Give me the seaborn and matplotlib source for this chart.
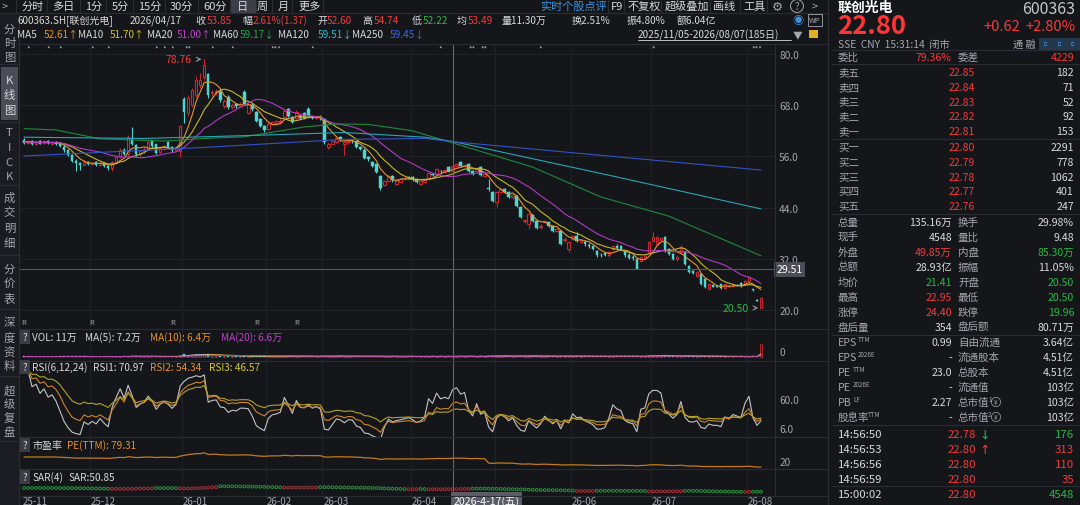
import numpy as np
import pandas as pd
import seaborn as sns
import matplotlib.pyplot as plt
from matplotlib.lines import Line2D
from matplotlib.patches import Rectangle
from matplotlib.transforms import blended_transform_factory as blend

# ---- daily K-line, 2025/11/05 - 2026/08/07 (185 days) ----
opens = [
    59.8, 59.1, 59.5, 59.0, 59.6, 59.1, 59.6, 59.0, 59.4, 59.0,
    58.3, 57.4, 56.3, 55.0, 54.5, 54.1, 54.8, 54.3, 54.6, 54.0,
    54.4, 53.8, 53.2, 54.5, 55.9, 57.6, 56.6, 60.3, 58.7, 56.6,
    57.2, 57.6, 59.6, 58.8, 57.0, 57.8, 59.3, 58.2, 57.4, 57.2,
    69.5, 66.2, 68.0, 70.5, 72.8, 74.5, 75.2, 70.8, 71.0, 71.2,
    67.8, 70.0, 67.6, 68.2, 67.8, 71.0, 66.2, 68.0, 66.4, 64.8,
    63.1, 62.4, 63.7, 63.9, 64.0, 65.2, 67.0, 65.2, 65.0, 65.4,
    66.2, 67.2, 65.3, 65.0, 65.3, 64.8, 58.2, 59.0, 59.4, 60.5,
    58.8, 59.3, 59.6, 59.5, 58.2, 57.6, 55.9, 54.8, 54.2, 51.4,
    49.4, 50.2, 51.3, 49.6, 50.0, 50.6, 51.2, 51.2, 50.8, 49.6,
    50.0, 50.8, 51.8, 51.8, 52.6, 52.4, 53.5, 52.60, 53.8, 54.7,
    53.8, 54.2, 52.5, 52.6, 53.5, 51.5, 48.6, 47.7, 45.3, 47.7,
    48.3, 47.7, 46.4, 46.7, 44.1, 40.8, 40.2, 42.3, 40.9, 39.4,
    40.6, 40.6, 39.7, 38.6, 38.5, 36.3, 34.3, 36.6, 37.3, 36.0,
    36.0, 35.3, 35.0, 33.8, 33.0, 33.3, 32.8, 34.3, 35.0, 34.9,
    33.8, 33.0, 32.5, 32.0, 31.5, 32.2, 33.6, 36.2, 35.5, 36.5,
    37.1, 34.3, 33.1, 32.0, 33.6, 33.6, 30.3, 29.1, 28.0, 28.5,
    27.3, 24.9, 25.8, 25.6, 26.0, 25.1, 25.7, 25.6, 25.9, 26.3,
    26.1, 26.8, 24.9, 22.3, 20.50]
highs = [
    60.3, 59.9, 59.8, 59.7, 59.9, 59.8, 59.9, 59.6, 59.7, 59.3,
    58.6, 57.7, 56.5, 55.3, 54.8, 55.1, 55.0, 54.8, 54.9, 54.7,
    54.6, 54.0, 54.9, 56.2, 58.0, 57.9, 61.0, 62.8, 58.9, 57.6,
    58.1, 59.6, 59.9, 59.0, 58.2, 58.7, 59.6, 58.4, 58.3, 63.4,
    70.0, 70.5, 72.0, 74.8, 75.5, 78.76, 75.5, 71.6, 71.9, 71.5,
    69.4, 70.3, 68.4, 68.6, 68.7, 71.5, 68.6, 68.4, 66.7, 65.0,
    63.4, 64.0, 64.4, 64.5, 64.8, 67.0, 67.3, 65.5, 66.8, 65.7,
    66.5, 67.6, 65.5, 65.5, 65.6, 65.0, 59.3, 59.9, 60.6, 60.8,
    59.6, 59.9, 59.9, 59.7, 58.4, 57.9, 56.2, 55.0, 54.4, 51.7,
    50.5, 51.7, 51.6, 50.9, 51.0, 51.1, 51.5, 51.5, 51.0, 50.5,
    50.7, 52.3, 52.1, 53.3, 52.9, 53.0, 53.8, 54.74, 54.5, 55.0,
    54.3, 54.5, 52.8, 53.4, 53.8, 52.2, 50.6, 48.0, 48.0, 48.6,
    48.6, 48.0, 47.2, 47.0, 44.3, 41.3, 42.8, 42.6, 41.2, 40.1,
    41.2, 40.9, 40.0, 39.2, 38.7, 37.0, 36.2, 37.6, 38.2, 36.6,
    36.3, 35.6, 35.3, 34.1, 33.3, 33.6, 33.9, 35.3, 35.5, 35.2,
    34.1, 33.3, 32.8, 32.2, 32.7, 32.9, 36.2, 38.3, 37.4, 37.1,
    37.4, 34.6, 33.4, 32.8, 35.3, 33.8, 30.6, 29.4, 29.2, 28.7,
    27.5, 26.3, 26.0, 25.8, 26.2, 26.2, 25.9, 26.2, 26.1, 26.5,
    27.0, 27.9, 25.0, 22.5, 22.95]
lows = [
    58.9, 58.8, 58.6, 58.7, 58.8, 58.9, 58.8, 58.7, 58.6, 58.1,
    57.1, 56.0, 54.6, 52.6, 52.8, 53.9, 54.0, 54.0, 53.8, 53.7,
    53.5, 52.9, 52.6, 54.3, 55.6, 56.3, 56.2, 58.7, 56.0, 56.2,
    56.9, 57.4, 58.2, 56.6, 56.8, 57.5, 57.8, 57.1, 57.2, 55.8,
    63.8, 65.5, 67.5, 70.0, 72.0, 74.0, 69.8, 70.2, 70.5, 68.8,
    67.4, 67.0, 67.2, 67.4, 67.5, 68.0, 66.0, 66.6, 64.1, 62.8,
    61.7, 62.2, 63.4, 63.6, 63.7, 65.0, 65.2, 63.8, 64.8, 64.8,
    64.7, 65.3, 64.7, 64.8, 64.6, 59.0, 57.8, 58.8, 59.2, 59.6,
    56.3, 59.0, 59.2, 58.0, 57.5, 55.3, 55.0, 53.5, 52.0, 48.2,
    49.0, 50.0, 50.1, 49.3, 49.8, 50.4, 50.6, 50.3, 49.8, 49.4,
    49.8, 50.5, 51.3, 51.5, 52.2, 52.1, 52.3, 52.22, 53.5, 53.6,
    53.6, 52.3, 51.6, 52.3, 51.4, 51.2, 48.0, 45.3, 44.2, 47.4,
    47.4, 46.2, 46.1, 44.1, 41.5, 40.5, 39.0, 40.6, 38.9, 39.1,
    40.3, 39.4, 38.2, 38.3, 35.2, 36.0, 33.6, 36.3, 35.9, 35.8,
    35.1, 34.6, 34.0, 32.5, 32.4, 32.6, 32.5, 34.0, 34.2, 34.0,
    32.5, 32.0, 31.8, 29.51, 31.2, 32.0, 33.4, 36.0, 35.2, 36.2,
    33.5, 32.8, 31.7, 31.6, 33.3, 30.5, 28.6, 28.4, 27.7, 25.8,
    25.2, 24.7, 25.3, 25.3, 24.9, 24.9, 25.4, 25.4, 25.6, 25.4,
    25.9, 26.6, 24.4, 22.0, 20.50]
closes = [
    59.2, 59.6, 59.0, 59.4, 59.0, 59.5, 59.1, 59.3, 59.0, 58.4,
    57.4, 56.3, 55.0, 54.4, 54.0, 54.8, 54.3, 54.5, 54.1, 54.4,
    53.8, 53.2, 54.6, 55.8, 57.6, 56.6, 60.6, 59.0, 56.5, 57.3,
    57.8, 59.3, 58.5, 56.9, 57.9, 58.4, 58.0, 57.4, 58.0, 63.1,
    66.4, 69.8, 71.5, 74.0, 73.8, 77.5, 70.3, 71.2, 71.4, 69.2,
    69.0, 67.5, 68.0, 67.8, 68.3, 68.3, 68.2, 67.0, 64.4, 63.2,
    62.1, 63.6, 64.1, 64.2, 64.4, 66.6, 65.5, 64.0, 66.4, 65.1,
    65.0, 65.5, 65.0, 65.2, 64.9, 59.4, 58.9, 59.6, 60.3, 60.0,
    59.3, 59.6, 59.5, 58.2, 57.8, 55.6, 55.3, 53.8, 52.3, 48.5,
    50.2, 51.4, 50.4, 50.6, 50.7, 50.8, 50.9, 50.6, 50.1, 50.2,
    50.4, 52.0, 51.6, 53.0, 52.5, 52.7, 52.6, 53.85, 54.2, 53.8,
    54.0, 52.6, 51.9, 53.1, 51.7, 51.9, 48.3, 45.6, 47.7, 48.3,
    47.7, 46.5, 46.9, 44.4, 41.8, 41.0, 42.5, 40.9, 39.2, 39.8,
    40.9, 39.7, 38.5, 38.9, 35.5, 36.7, 35.9, 37.3, 36.2, 36.3,
    35.4, 34.9, 34.3, 32.8, 32.8, 32.9, 33.6, 35.0, 34.5, 34.3,
    32.8, 32.3, 32.1, 29.6, 32.4, 32.6, 35.9, 37.1, 37.1, 36.8,
    33.8, 33.1, 32.0, 32.5, 34.8, 30.8, 28.9, 28.7, 28.9, 26.1,
    25.4, 26.0, 25.5, 25.5, 25.1, 26.0, 25.6, 26.0, 25.8, 25.6,
    26.8, 27.7, 24.6, 22.18, 22.80]
volumes = [  # 万手
    6, 5, 5, 4, 5, 4, 4, 5, 4, 6,
    7, 8, 9, 8, 6, 5, 5, 4, 4, 4,
    5, 5, 6, 7, 8, 7, 6, 12, 10, 7,
    6, 6, 7, 7, 6, 5, 5, 5, 6, 18,
    30, 25, 22, 26, 20, 28, 30, 18, 14, 13,
    12, 14, 10, 9, 9, 12, 11, 9, 10, 12,
    10, 8, 7, 7, 8, 10, 9, 8, 8, 7,
    7, 8, 6, 6, 6, 15, 12, 9, 8, 8,
    9, 7, 6, 6, 6, 8, 7, 7, 8, 10,
    8, 7, 6, 6, 6, 6, 6, 6, 5, 5,
    5, 7, 6, 6, 6, 6, 7, 11.3, 8, 7,
    6, 7, 6, 6, 7, 6, 14, 12, 13, 9,
    8, 8, 7, 10, 12, 11, 14, 9, 9, 7,
    7, 7, 8, 6, 12, 10, 11, 8, 9, 7,
    7, 6, 7, 9, 6, 6, 7, 8, 7, 6,
    7, 7, 6, 12, 8, 7, 16, 18, 14, 12,
    15, 10, 9, 8, 11, 13, 10, 7, 7, 10,
    9, 8, 6, 6, 7, 6, 5, 5, 5, 6,
    6, 7, 9, 5, 135.16]

# long moving averages (bar index, value)
ma60_x = [0, 8, 19, 35, 47, 55, 70, 78, 86, 97, 107, 127, 144, 161, 184]
ma60_y = [62.5, 62.2, 60.1, 59.6, 60.3, 60.6, 62.9, 63.6, 63.5, 62.0, 59.17, 53.5, 46.5, 42.0, 32.7]
ma120_x = [0, 30, 60, 80, 100, 107, 145, 184]
ma120_y = [60.5, 60.2, 61.0, 61.6, 60.5, 59.51, 51.8, 43.7]
ma250_x = [0, 45, 80, 100, 107, 184]
ma250_y = [56.1, 58.1, 60.0, 60.2, 59.45, 52.8]

eps_ttm = [0.679, 0.99]   # before / after annual report
eps_switch = 116

month_labels = ['25-11', '25-12', '26-01', '26-02', '26-03', '26-04', '26-05', '26-06', '26-07', '26-08']
month_start = [0, 17, 40, 61, 75, 97, 118, 137, 157, 181]
star_bars = [1, 6, 9, 17, 21, 33, 35, 37, 41, 47, 52, 63, 72, 104, 112, 115, 129, 157, 183]
star_marks = ['*', '*', '*', '*', '*', '*', '*', '*', '**', '*', '*', '***', '*', '*', '**', '**', '*', '*', '***']
r_bars = [0, 17, 37, 58, 68]
cursor_idx = 107
cursor_date = '2026-4-17(五)'
cursor_price = 29.51
price_ticks = [80, 68, 56, 44, 32, 20]

# ---- look ----
W, H = 1080, 506
BG = '#14161a'
STRIP = '#1a1c21'
SEP = '#2a2d34'
GRID = '#202329'
WH = '#d9d9d9'
GR = '#a3a6ad'
RED = '#f03b3b'
GRN = '#27b843'
KRED = '#c9262f'
CYAN = '#4fd6d0'
C_MA5, C_MA10, C_MA20 = '#e2952f', '#c9b52c', '#b23bbf'
C_MA60, C_MA120, C_MA250 = '#1f8a3c', '#2aa4b6', '#3552c4'
FS = 7.2

sns.set_theme(style='dark', rc={'axes.facecolor': BG, 'figure.facecolor': BG})
plt.rcParams['font.family'] = ['Noto Sans CJK SC', 'DejaVu Sans']

df = pd.DataFrame({'o': opens, 'h': highs, 'l': lows, 'c': closes, 'v': volumes})
n = len(df)
idx = np.arange(n)
up = (df.c >= df.o).values

fig = plt.figure(figsize=(W / 100, H / 100), dpi=100)


def box(x0, y0, x1, y1):
    return [x0 / W, 1 - y1 / H, (x1 - x0) / W, (y1 - y0) / H]


def T(x, y, s, c=WH, fs=FS, ha='left', va='center', **kw):
    return fig.text(x / W, 1 - y / H, s, color=c, fontsize=fs, ha=ha, va=va, **kw)


def hl(y, x0, x1, c=SEP, lw=0.8):
    fig.add_artist(Line2D([x0 / W, x1 / W], [1 - y / H, 1 - y / H], color=c, lw=lw))


def vl(x, y0, y1, c=SEP, lw=0.8):
    fig.add_artist(Line2D([x / W, x / W], [1 - y0 / H, 1 - y1 / H], color=c, lw=lw))


def rect(x0, y0, x1, y1, c):
    fig.add_artist(Rectangle((x0 / W, 1 - y1 / H), (x1 - x0) / W, (y1 - y0) / H, color=c, lw=0))


def panel(y0, y1, ylim):
    a = fig.add_axes(box(20, y0, 775, y1))
    a.set_facecolor(BG)
    a.set_xlim(-1, 187.5)
    a.set_ylim(*ylim)
    for s in a.spines.values():
        s.set_visible(False)
    a.tick_params(axis='x', bottom=False, labelbottom=False)
    a.tick_params(axis='y', left=False, labelleft=False, right=False, labelright=True,
                  length=0, pad=3, labelsize=7.3, labelcolor=GR)
    for m in month_start[1:]:
        a.axvline(m - 0.5, color=GRID, lw=0.7, zorder=0)
    a.axvline(cursor_idx, color='#62656c', lw=0.8, zorder=5)
    return a


def tidy(a):
    a.set_xlabel('')
    a.set_ylabel('')


# ---- main K-line panel ----
ax = panel(45, 330, (15.55, 82.34))
ax.set_yticks(price_ticks)
ax.set_yticklabels([f'{t:.1f}' for t in price_ticks])
for t in price_ticks:
    ax.axhline(t, color=GRID, lw=0.7, zorder=0)
ax.vlines(idx, df.l, df.h, colors=np.where(up, KRED, CYAN), lw=0.8, zorder=2)
body = np.maximum((df.c - df.o).abs().values, 0.12)
bottom = np.minimum(df.o, df.c).values
ax.bar(idx[up], body[up], bottom=bottom[up], width=0.62, color=BG, edgecolor=KRED, lw=0.8, zorder=3)
ax.bar(idx[~up], body[~up], bottom=bottom[~up], width=0.62, color=CYAN, edgecolor=CYAN, lw=0.3, zorder=3)

for win, col in [(5, C_MA5), (10, C_MA10), (20, C_MA20)]:
    sns.lineplot(x=idx, y=df.c.rolling(win, min_periods=1).mean(), ax=ax, color=col, lw=0.8, zorder=4)
for xs, ys, col in [(ma60_x, ma60_y, C_MA60), (ma120_x, ma120_y, C_MA120), (ma250_x, ma250_y, C_MA250)]:
    sns.lineplot(x=xs, y=ys, ax=ax, color=col, lw=0.8, zorder=4)
tidy(ax)

hi_i, lo_i = int(df.h.idxmax()), int(df.l.idxmin())
ax.annotate(f'{df.h[hi_i]:.2f}', xy=(hi_i, df.h[hi_i]), xytext=(-9, 0), textcoords='offset points',
            ha='right', va='center', color=RED, fontsize=7.6,
            arrowprops=dict(arrowstyle='->', color='#9a9da3', lw=0.7))
ax.annotate(f'{df.l[lo_i]:.2f}', xy=(lo_i, df.l[lo_i]), xytext=(-9, 0), textcoords='offset points',
            ha='right', va='center', color=GRN, fontsize=7.6,
            arrowprops=dict(arrowstyle='->', color='#9a9da3', lw=0.7))

tr = blend(ax.transData, ax.transAxes)
for b, m in zip(star_bars, star_marks):
    ax.text(b, 0.985, m, transform=tr, ha='center', va='center', color='#b8b8b8', fontsize=5.5)
for b in r_bars:
    ax.text(b, 0.025, 'R', transform=tr, ha='center', va='center', color='#a0a0a0', fontsize=5.5)

ax.axhline(cursor_price, color='#55585f', lw=0.8, zorder=5)
ax.text(1.002, cursor_price, f'{cursor_price:.2f}', transform=blend(ax.transAxes, ax.transData),
        ha='left', va='center', color='white', fontsize=7.6, clip_on=False,
        bbox=dict(boxstyle='square,pad=0.25', fc='#4b4e56', ec='none'))

# ---- volume ----
av = panel(330, 362, (-41.5, 291))
av.bar(idx[up], df.v[up], width=0.6, color=BG, edgecolor=KRED, lw=0.6, zorder=3)
av.bar(idx[~up], df.v[~up], width=0.6, color=CYAN, edgecolor=CYAN, lw=0.3, zorder=3)
for win, col in [(5, '#d0d0d0'), (10, C_MA5), (20, C_MA20)]:
    sns.lineplot(x=idx, y=df.v.rolling(win, min_periods=1).mean(), ax=av, color=col, lw=0.6, zorder=4)
av.set_yticks([0])
av.set_yticklabels(['0'], va='bottom')
tidy(av)

# ---- RSI(6,12,24) ----
ar = panel(362, 438, (7.6, 112.4))
diff = df.c.diff()
for per, col in [(6, '#c4c4c4'), (12, '#d0842a'), (24, '#b0a22a')]:
    g = diff.clip(lower=0).ewm(alpha=1 / per, adjust=False).mean()
    a = diff.abs().ewm(alpha=1 / per, adjust=False).mean()
    sns.lineplot(x=idx, y=100 * g / a, ax=ar, color=col, lw=0.8)
ar.set_yticks([60, 20])
ar.set_yticklabels(['60.0', '6.0'])
tidy(ar)

# ---- PE(TTM) ----
ap = panel(438, 470, (10.2, 215.6))
eps = np.where(idx < eps_switch, eps_ttm[0], eps_ttm[1])
sns.lineplot(x=idx, y=df.c / eps, ax=ap, color='#c27a1e', lw=0.9)
ap.set_yticks([20])
ap.set_yticklabels(['20'], va='bottom')
tidy(ap)

# ---- SAR(4) ----
asr = panel(470, 497, (-10, 226.7))
hh, ll = df.h.values, df.l.values
sar = np.zeros(n)
trend = np.zeros(n, dtype=int)
sar[:4] = hh[:4].max()
trend[:4] = -1
ep, af, rising = ll[:4].min(), 0.02, False
for i in range(4, n):
    s = sar[i - 1] + af * (ep - sar[i - 1])
    if rising:
        s = min(s, ll[i - 1], ll[i - 2])
        if ll[i] < s:
            rising, s, ep, af = False, hh[i - 3:i + 1].max(), ll[i], 0.02
        elif hh[i] > ep:
            ep, af = hh[i], min(af + 0.02, 0.2)
    else:
        s = max(s, hh[i - 1], hh[i - 2])
        if hh[i] > s:
            rising, s, ep, af = True, ll[i - 3:i + 1].min(), hh[i], 0.02
        elif ll[i] < ep:
            ep, af = ll[i], min(af + 0.02, 0.2)
    sar[i] = s
    trend[i] = 1 if rising else -1
asr.scatter(idx, sar, s=4, facecolors='none', edgecolors=np.where(trend > 0, '#c0262e', '#1e9a38'), lw=0.7)
asr.set_yticks([])
trx = blend(asr.transData, asr.transAxes)
for m, lab in zip(month_start, month_labels):
    if cursor_idx < m < cursor_idx + 20:
        continue  # hidden under the cursor date box
    asr.text(m - 0.3, -0.17, lab, transform=trx, ha='left', va='center', color=GR, fontsize=7, clip_on=False)
asr.text(cursor_idx + 0.2, -0.17, cursor_date, transform=trx, ha='left', va='center', color='white',
         fontsize=7.6, clip_on=False, zorder=10,
         bbox=dict(boxstyle='square,pad=0.25', fc='#5a5d65', ec='none'))

# ---- frame lines ----
for y in [45, 330, 362, 438, 470, 497]:
    hl(y, 20, 828)
vl(775, 45, 497)
vl(828, 0, 506)
vl(19, 14, 506)
hl(14, 0, 828)

# ---- left tab strip ----
rect(0, 14, 19, 506, STRIP)
rect(1, 68, 18, 121, '#4a4d55')
tabs = [('分时图', [30, 44, 58]), ('K线图', [81, 96, 111]), ('TICK', [133, 148, 163, 177]),
        ('成交明细', [198, 213, 229, 244]), ('分价表', [270, 284, 299]),
        ('深度资料', [323, 338, 352, 366]), ('超级复盘', [391, 405, 419, 433])]
for word, ys in tabs:
    for ch, y in zip(word, ys):
        T(9.5, y, ch, c=WH if word == 'K线图' else GR, fs=8.2, ha='center')
for y in [65, 123, 186, 256, 310, 377, 442]:
    hl(y, 0, 19)

# ---- top toolbar ----
T(5, 7, '>', c=GR, fs=8, ha='center')
rect(231, 0, 256, 14, '#3b3e46')
for s, x in [('分时', 22), ('多日', 52), ('1分', 85), ('5分', 112), ('15分', 138), ('30分', 170),
             ('60分', 203), ('日', 237), ('周', 257), ('月', 278), ('更多', 298)]:
    T(x, 7, s, c=WH, fs=8)
for x in [16, 47, 80, 106, 133, 165, 198, 230, 256, 272, 292, 323]:
    vl(x, 1, 13)
T(540, 7, '实时个股点评', c='#3b93e0', fs=8)
for s, x in [('F9', 611), ('不复权', 628), ('超级叠加', 665), ('画线', 713), ('工具', 743)]:
    T(x, 7, s, c=WH, fs=8)
for x in [608, 624, 661, 710, 740, 767]:
    vl(x, 1, 13)
T(777, 7, '⚙', c=GR, fs=9, ha='center')
T(797, 7, '?', c=GR, fs=7, ha='center', bbox=dict(boxstyle='circle,pad=0.15', fc='none', ec=GR, lw=0.7))
T(815, 7, '>', c=GR, fs=8, ha='center')

# ---- quote header ----
hdr = [(17, '600363.SH[联创光电]', WH), (130, '2026/04/17', WH), (195, '收', WH), (207, '53.85', RED),
       (242, '幅', WH), (253, '2.61%(1.37)', RED), (317, '开', WH), (327, '52.60', RED),
       (362, '高', WH), (374, '54.74', RED), (412, '低', WH), (423, '52.22', GRN),
       (457, '均', WH), (468, '53.49', RED), (502, '量11.30万', WH), (572, '换2.51%', WH),
       (627, '振4.80%', WH), (677, '额6.04亿', WH)]
for x, s, c in hdr:
    T(x, 21, s, c=c)
T(798, 21, '◉', c='#3b93e0', fs=8, ha='center')
T(815, 21, 'WP', c=GR, fs=5.5, ha='center', bbox=dict(boxstyle='square,pad=0.2', fc='none', ec=GR, lw=0.6))

mas = [(17, 'MA5', WH), (44, '52.61↑', C_MA5), (78, 'MA10', WH), (110, '51.70↑', '#d6c430'),
       (147, 'MA20', WH), (177, '51.00↑', '#c040cc'), (213, 'MA60', WH), (240, '59.17↓', '#25a845'),
       (278, 'MA120', WH), (318, '59.51↓', '#2fb8cc'), (352, 'MA250', WH), (390, '59.45↓', '#3c6ae0')]
for x, s, c in mas:
    T(x, 35, s, c=c)
T(638, 35, '2025/11/05-2026/08/07(185日)', c=WH)
hl(41, 638, 791, c=WH, lw=0.6)
T(798, 35, '▼', c=GR, fs=7, ha='center')
rect(809, 31, 818, 39, '#e0b020')


# indicator titles
def qmark(y):
    T(25, y, '?', c=WH, fs=7, ha='center', bbox=dict(boxstyle='square,pad=0.25', fc='#3a3d44', ec='none'))


qmark(338)
for x, s, c in [(32, 'VOL: 11万', WH), (85, 'MA(5): 7.2万', WH), (150, 'MA(10): 6.4万', '#e8912e'),
                (221, 'MA(20): 6.6万', '#c040cc')]:
    T(x, 338, s, c=c)
qmark(368)
for x, s, c in [(32, 'RSI(6,12,24)', WH), (93, 'RSI1: 70.97', WH), (150, 'RSI2: 54.34', '#e8912e'),
                (209, 'RSI3: 46.57', '#d6c83a')]:
    T(x, 368, s, c=c)
qmark(446)
T(32, 446, '市盈率', c=WH)
T(67, 446, 'PE(TTM): 79.31', c='#e8912e')
qmark(478)
T(32, 478, 'SAR(4)', c=WH)
T(68, 478, 'SAR:50.85', c=WH)

# ---- right quote panel ----
T(838, 8, '联创光电', c='white', fs=10, fontweight='bold')
T(1075, 9, '600363', c='#c8c8c8', fs=11.5, ha='right')
T(837, 34.5, '22.80', c='#ff3535', fs=18.5, fontweight='bold', va='baseline')
T(1020, 27, '+0.62', c=RED, fs=10.5, ha='right')
T(1076, 27, '+2.80%', c=RED, fs=10.5, ha='right')
T(838, 45, 'SSE  CNY  15:31:14  闭市', c=GR, fs=7.4)
T(1013, 45, '通 融', c=GR, fs=7.4)
for x in [1046, 1060, 1073]:
    T(x, 45, '▫', c='#3b93e0', fs=8, ha='center',
      bbox=dict(boxstyle='square,pad=0.1', fc='#24384c', ec='none'))
for y in [51, 65, 140, 215, 336, 426, 487]:
    hl(y, 832, 1080)

T(838, 58, '委比', c=GR, fs=7.6)
T(951, 58, '79.36%', c=RED, ha='right', fs=7.6)
T(958, 58, '委差', c=GR, fs=7.6)
T(1074, 58, '4229', c=RED, ha='right', fs=7.6)

ask_labels = ['卖五', '卖四', '卖三', '卖二', '卖一']
ask_prices = ['22.85', '22.84', '22.83', '22.82', '22.81']
ask_vols = ['182', '71', '52', '92', '153']
bid_labels = ['买一', '买二', '买三', '买四', '买五']
bid_prices = ['22.80', '22.79', '22.78', '22.77', '22.76']
bid_vols = ['2291', '778', '1062', '401', '247']
for k in range(5):
    for y, lab, p, v in [(73 + 14.8 * k, ask_labels[k], ask_prices[k], ask_vols[k]),
                         (148 + 14.8 * k, bid_labels[k], bid_prices[k], bid_vols[k])]:
        T(838, y, lab, c=GR, fs=7.6)
        T(975, y, p, c=RED, ha='right', fs=7.6)
        T(1074, y, v, c=WH, ha='right', fs=7.6)

stats = [('总量', '135.16万', WH, '换手', '29.98%', WH), ('现手', '4548', WH, '量比', '9.48', WH),
         ('外盘', '49.85万', RED, '内盘', '85.30万', GRN), ('总额', '28.93亿', WH, '振幅', '11.05%', WH),
         ('均价', '21.41', GRN, '开盘', '20.50', GRN), ('最高', '22.95', RED, '最低', '20.50', GRN),
         ('涨停', '24.40', RED, '跌停', '19.96', GRN), ('盘后量', '354', WH, '盘后额', '80.71万', WH)]
for k, (l1, v1, c1, l2, v2, c2) in enumerate(stats):
    y = 223 + 15 * k
    T(838, y, l1, c=GR, fs=7.6)
    T(952, y, v1, c=c1, ha='right', fs=7.6)
    T(958, y, l2, c=GR, fs=7.6)
    T(1074, y, v2, c=c2, ha='right', fs=7.6)

fund = [('EPS', 'TTM', 858, '0.99', '自由流通', '', '3.64亿'), ('EPS', '2026E', 858, '-', '流通股本', '', '4.51亿'),
        ('PE', 'TTM', 853, '23.0', '总股本', '', '4.51亿'), ('PE', '2026E', 853, '-', '流通值', '', '103亿'),
        ('PB', 'LF', 853, '2.27', '总市值', '1', '103亿'), ('股息率', 'TTM', 868, '-', '总市值', '2', '103亿')]
for k, (l1, sup, sx, v1, l2, sup2, v2) in enumerate(fund):
    y = 343 + 15 * k
    T(838, y, l1, c=GR, fs=7.6)
    T(sx, y - 3, sup, c=GR, fs=4.5)
    T(952, y, v1, c=WH, ha='right', fs=7.6)
    T(958, y, l2, c=GR, fs=7.6)
    if sup2:
        T(988, y - 3, sup2, c=GR, fs=4.5)
        T(996, y, '¥', c=GR, fs=4.5, ha='center', bbox=dict(boxstyle='circle,pad=0.1', fc='none', ec=GR, lw=0.5))
    T(1074, y, v2, c=WH, ha='right', fs=7.6)

tick_times = ['14:56:50', '14:56:53', '14:56:56', '14:56:59']
tick_prices = ['22.78', '22.80', '22.80', '22.80']
tick_arrows = ['↓', '↑', '', '']
tick_vols = ['176', '313', '110', '35']
tick_cols = [GRN, RED, RED, RED]
for k in range(4):
    y = 435 + 15 * k
    T(838, y, tick_times[k], c=WH, fs=8.2)
    T(976, y, tick_prices[k], c=RED, fs=8.2, ha='right')
    if tick_arrows[k]:
        T(979, y, tick_arrows[k], c=GRN if tick_arrows[k] == '↓' else RED, fs=7.5, fontweight='bold')
    T(1074, y, tick_vols[k], c=tick_cols[k], fs=8.2, ha='right')
T(838, 495, '15:00:02', c=WH, fs=8.2)
T(976, 495, '22.80', c=RED, fs=8.2, ha='right')
T(1074, 495, '4548', c=GRN, fs=8.2, ha='right')

fig.savefig('out.png', dpi=100, facecolor=BG)
